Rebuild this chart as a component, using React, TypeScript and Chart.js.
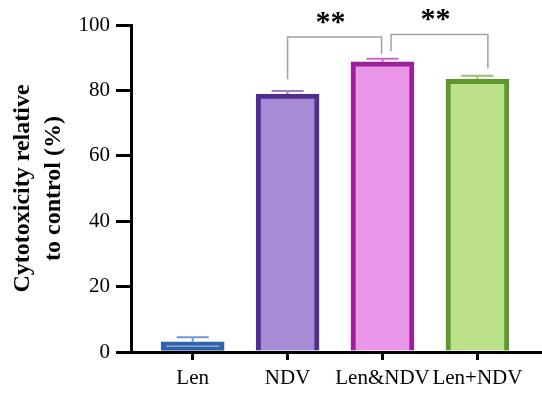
import React, { useEffect, useRef } from "react";
import { Chart, registerables } from "chart.js";

Chart.register(...registerables);

const CATEGORIES = ["Len", "NDV", "Len&NDV", "Len+NDV"];
const VALUES = [3.1, 78.9, 88.7, 83.4];
const ERRORS = [1.4, 0.9, 1.0, 1.1];
const Y_TICKS = [0, 20, 40, 60, 80, 100];
const FILL_COLORS = ["#6b9bd9", "#a68bd5", "#e996e9", "#bde08a"];
const BORDER_COLORS = ["#2f62a8", "#512d90", "#9b1f98", "#5b972d"];
const ERROR_COLORS = ["#6b9bd9", "#9a80cf", "#c56bc5", "#94c468"];
const SIG_PAIRS: [number, number][] = [[1, 2], [2, 3]];
const SIG_LABELS = ["**", "**"];
const SIG_TOPS = [96.3, 97.1];
const SIG_LEG_ENDS: [number, number][] = [[83.4, 91.1], [92.0, 86.7]];

const FONT = "'Liberation Serif', 'Times New Roman', serif";

const overlayPlugin = {
  id: "overlay",
  afterDatasetsDraw(chart: any) {
    const ctx = chart.ctx;
    const xs = chart.scales.x;
    const ys = chart.scales.y;
    ctx.save();
    // error bars
    VALUES.forEach((v, i) => {
      const x = xs.getPixelForValue(i);
      const yTop = ys.getPixelForValue(v);
      const yCap = ys.getPixelForValue(v + ERRORS[i]);
      ctx.strokeStyle = ERROR_COLORS[i];
      ctx.lineWidth = 2;
      ctx.beginPath();
      ctx.moveTo(x, yTop);
      ctx.lineTo(x, yCap);
      ctx.moveTo(x - 16, yCap);
      ctx.lineTo(x + 16, yCap);
      ctx.stroke();
    });
    // significance brackets
    const legOffsets: [number, number][] = [[0, -0.01], [0.09, 0.11]];
    SIG_PAIRS.forEach(([a, b], k) => {
      const x1 = xs.getPixelForValue(a + legOffsets[k][0]);
      const x2 = xs.getPixelForValue(b + legOffsets[k][1]);
      const yT = ys.getPixelForValue(SIG_TOPS[k]);
      const y1 = ys.getPixelForValue(SIG_LEG_ENDS[k][0]);
      const y2 = ys.getPixelForValue(SIG_LEG_ENDS[k][1]);
      ctx.strokeStyle = "#a0a0a0";
      ctx.lineWidth = 1.5;
      ctx.beginPath();
      ctx.moveTo(x1, y1);
      ctx.lineTo(x1, yT);
      ctx.lineTo(x2, yT);
      ctx.lineTo(x2, y2);
      ctx.stroke();
      ctx.fillStyle = "#000";
      ctx.font = `bold 30px ${FONT}`;
      ctx.textAlign = "center";
      ctx.textBaseline = "middle";
      ctx.fillText(SIG_LABELS[k], (x1 + x2) / 2 - 4, yT - 14);
    });
    ctx.restore();
  },
};

export default function App() {
  const ref = useRef<HTMLCanvasElement>(null);
  useEffect(() => {
    if (!ref.current) return;
    const chart = new Chart(ref.current, {
      type: "bar",
      data: {
        datasets: [
          {
            data: VALUES.map((v, i) => ({ x: i, y: v })) as any,
            backgroundColor: FILL_COLORS,
            borderColor: BORDER_COLORS,
            borderWidth: 5,
            borderSkipped: ((c: any) => (c.dataIndex === 0 ? false : "start")) as any,
            barThickness: 63,
          },
        ],
      },
      options: {
        responsive: false,
        animation: false,
        layout: { padding: { top: 25, right: 1, left: 0, bottom: 0 } },
        plugins: { legend: { display: false }, tooltip: { enabled: false } },
        scales: {
          x: {
            type: "linear",
            offset: false,
            min: -0.65,
            max: 3.67,
            afterBuildTicks: (scale: any) => {
              scale.ticks = CATEGORIES.map((_, i) => ({ value: i }));
            },
            afterFit: (scale: any) => {
              scale.height = 42;
            },
            ticks: {
              autoSkip: false,
              maxRotation: 0,
              padding: 6,
              color: "#000",
              font: { family: FONT, size: 21 },
              callback: (v: any) => CATEGORIES[v as number] ?? "",
            },
            grid: {
              offset: false,
              drawOnChartArea: false,
              tickLength: 8,
              tickWidth: 3,
              tickColor: "#000",
              lineWidth: 3,
              color: "#000",
            },
            border: { color: "#000", width: 3 },
          },
          y: {
            min: 0,
            max: 100,
            afterBuildTicks: (scale: any) => {
              scale.ticks = Y_TICKS.map((v) => ({ value: v }));
            },
            afterFit: (scale: any) => {
              scale.width = 131;
            },
            ticks: {
              padding: 6,
              color: "#000",
              font: { family: FONT, size: 21 },
            },
            grid: {
              drawOnChartArea: false,
              tickLength: 15,
              tickWidth: 3,
              tickColor: "#000",
              lineWidth: 3,
              color: "#000",
            },
            border: { color: "#000", width: 3 },
            title: {
              display: true,
              text: ["Cytotoxicity relative", "to control (%)"],
              color: "#000",
              font: { family: FONT, size: 24, weight: "bold", lineHeight: 1.3 },
              padding: { top: 7, bottom: 0 },
            },
          },
        },
      },
      plugins: [overlayPlugin],
    });
    return () => chart.destroy();
  }, []);
  return (
    <div style={{ position: "absolute", left: 0, top: 0, width: 542, height: 394 }}>
      <canvas ref={ref} width={542} height={394} />
    </div>
  );
}
